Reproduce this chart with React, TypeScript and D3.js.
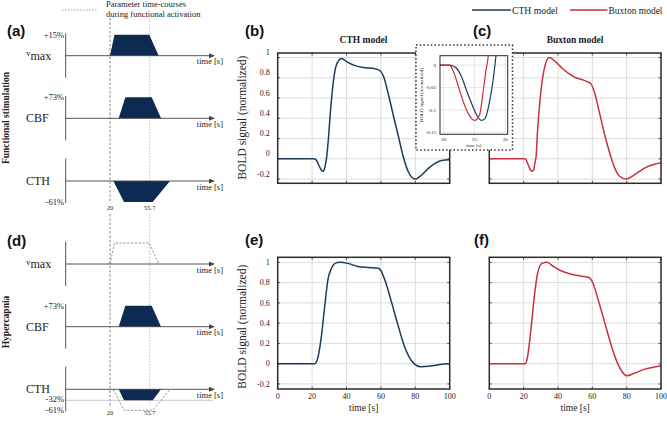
import React from "react";
import * as d3 from "d3";

const W = 667;
const H = 425;

// ---------- BOLD responses (normalized) ----------
const funcCthTime = [0, 20, 21, 21.5, 22.1, 22.9, 23.7, 24.55, 25.4, 26.1, 26.7, 27.5, 28.1, 28.5, 29.5, 30.4, 31.8, 33.3, 35, 37.2, 40, 45, 50.8, 56.6, 59.5, 61.4, 64.3, 67.2, 70.2, 73, 76, 80, 83.7, 87.6, 91.5, 95.3, 100];
const funcCthBold = [0, 0, 0, -0.002, -0.007, -0.026, -0.056, -0.086, -0.112, -0.123, -0.119, -0.078, -0.026, 0.022, 0.2, 0.41, 0.68, 0.87, 0.96, 0.99, 0.96, 0.92, 0.9, 0.89, 0.87, 0.82, 0.64, 0.43, 0.22, 0.02, -0.13, -0.2, -0.16, -0.095, -0.046, -0.016, -0.01];

const funcBuxTime = [0, 20, 20.9, 21.6, 22.4, 23.2, 24.0, 25.0, 25.8, 26.44, 26.88, 27.25, 28.0, 29.9, 31.8, 33.2, 34.8, 38.8, 42.7, 46.6, 50.5, 54.4, 57.3, 59.2, 61.2, 64.1, 67, 69.9, 72.8, 75.7, 79.6, 83.5, 87.4, 91.3, 95.1, 100];
const funcBuxBold = [0, 0, 0, -0.015, -0.048, -0.082, -0.108, -0.123, -0.112, -0.056, -0.011, 0.022, 0.25, 0.64, 0.87, 0.96, 1.0, 0.955, 0.89, 0.84, 0.8, 0.78, 0.76, 0.74, 0.66, 0.46, 0.25, 0.07, -0.08, -0.17, -0.2, -0.17, -0.125, -0.085, -0.059, -0.038];

const hypCthTime = [0, 21.5, 22.3, 23.5, 25.4, 27.3, 29.2, 31.2, 34, 36, 40.8, 46.5, 52.3, 58, 60, 62, 65.8, 69.6, 73.5, 76.3, 79.2, 83, 88.8, 94.6, 100];
const hypCthBold = [0, 0, 0.01, 0.07, 0.27, 0.56, 0.83, 0.94, 0.995, 1.0, 0.99, 0.96, 0.95, 0.945, 0.92, 0.84, 0.63, 0.4, 0.18, 0.07, 0.0, -0.03, -0.023, -0.007, 0];

const hypBuxTime = [0, 20.9, 21.5, 22.3, 24.2, 26.2, 28.1, 30.7, 33.6, 37.5, 41.4, 47.3, 53.1, 58, 60, 62.9, 66.8, 70.7, 73.6, 76.6, 80.1, 84.4, 90.2, 96.1, 100];
const hypBuxBold = [0, 0, 0.015, 0.07, 0.33, 0.66, 0.89, 0.99, 1.0, 0.957, 0.92, 0.885, 0.865, 0.85, 0.81, 0.66, 0.43, 0.2, 0.05, -0.06, -0.12, -0.095, -0.056, -0.033, -0.02];

const boldTicks = [-0.2, 0, 0.2, 0.4, 0.6, 0.8, 1];
const boldTickLabels = ["-0.2", "0", "0.2", "0.4", "0.6", "0.8", "1"];
const timeTicks = [0, 20, 40, 60, 80, 100];
const insetBoldTicks = [-0.15, -0.1, -0.05, 0];
const insetBoldTickLabels = ["-0.15", "-0.1", "-0.05", "0"];
const insetTimeTicks = [20, 25, 30];

// ---------- schematic parameter time-courses ----------
const stimOnset = 20;
const stimOffset = 55.7;
const vmaxRamp = [20, 24, 55.3, 63.8];
const cbfRamp = [27.8, 33.8, 57.5, 65.9];
const cthRamp = [23, 32.6, 58.4, 74];
const cthHypRamp = [27.8, 32.6, 58.4, 65.9];
const vmaxPeak = 15;
const cbfPeak = 73;
const cthPeak = -61;
const cthHypPeak = -32;

const BLUE = "#1c3a5e";
const RED = "#c8323c";
const FILL = "#0e2a50";
const SERIF = "'Liberation Serif', 'Times New Roman', serif";
const SANS = "'Liberation Sans', Arial, sans-serif";
const TXT = "#222";

type Series = { t: number[]; v: number[]; color: string };

function BoldPanel(props: {
  id: string;
  x0: number; x1: number; y0: number; y1: number;
  yDomain: [number, number];
  series: Series[];
  yLabels: boolean; xLabels: boolean; yLabelShift: number;
}) {
  const { x0, x1, y0, y1, yDomain, series } = props;
  const xs = d3.scaleLinear().domain([0, 100]).range([x0, x1]);
  const ys = d3.scaleLinear().domain(yDomain).range([y1, y0]);
  const line = d3.line<number>().curve(d3.curveMonotoneX);
  return (
    <g>
      <defs>
        <clipPath id={props.id}>
          <rect x={x0} y={y0} width={x1 - x0} height={y1 - y0} />
        </clipPath>
      </defs>
      {boldTicks.map((b) => (
        <line key={"gy" + b} x1={x0} x2={x1} y1={ys(b)} y2={ys(b)} stroke="#d4d4d4" strokeWidth={0.8} />
      ))}
      {timeTicks.slice(1, -1).map((t) => (
        <line key={"gx" + t} x1={xs(t)} x2={xs(t)} y1={y0} y2={y1} stroke="#d4d4d4" strokeWidth={0.8} />
      ))}
      {boldTicks.map((b) => (
        <g key={"ty" + b}>
          <line x1={x0} x2={x0 + 2.5} y1={ys(b)} y2={ys(b)} stroke="#333" strokeWidth={0.8} />
          <line x1={x1 - 2.5} x2={x1} y1={ys(b)} y2={ys(b)} stroke="#333" strokeWidth={0.8} />
        </g>
      ))}
      {timeTicks.map((t) => (
        <g key={"tx" + t}>
          <line x1={xs(t)} x2={xs(t)} y1={y1} y2={y1 - 2.5} stroke="#333" strokeWidth={0.8} />
          <line x1={xs(t)} x2={xs(t)} y1={y0} y2={y0 + 2.5} stroke="#333" strokeWidth={0.8} />
        </g>
      ))}
      <g clipPath={`url(#${props.id})`}>
        {series.map((s, i) => (
          <path
            key={i}
            d={line.x((_, j) => xs(s.t[j])).y((d) => ys(d))(s.v) || ""}
            fill="none"
            stroke={s.color}
            strokeWidth={1.5}
          />
        ))}
      </g>
      <rect x={x0} y={y0} width={x1 - x0} height={y1 - y0} fill="none" stroke="#2a2a2a" strokeWidth={1.5} />
      {props.yLabels &&
        boldTicks.map((b, i) => (
          <text key={"ly" + b} x={x0 - 8} y={ys(b) + props.yLabelShift} dy="0.33em" textAnchor="end" fontSize={8} fontFamily={SERIF} fill={TXT}>
            {boldTickLabels[i]}
          </text>
        ))}
      {props.xLabels && (
        <g>
          {timeTicks.map((t) => (
            <text key={"lx" + t} x={xs(t)} y={y1 + 10} textAnchor="middle" fontSize={8} fontFamily={SERIF} fill={TXT}>
              {t}
            </text>
          ))}
          <text x={(x0 + x1) / 2} y={y1 + 21.5} textAnchor="middle" fontSize={9.5} fontFamily={SERIF} fill={TXT}>
            time [s]
          </text>
        </g>
      )}
    </g>
  );
}

function Inset() {
  const bx0 = 416, by0 = 45, bx1 = 512.5, by1 = 150;
  const x0 = 440, x1 = 507.7, y0 = 55.7, y1 = 134.3;
  const xs = d3.scaleLinear().domain([19.4, 30.4]).range([x0, x1]);
  const ys = d3.scaleLinear().domain([-0.154, 0.021]).range([y1, y0]);
  const line = d3.line<number>().curve(d3.curveMonotoneX);
  const series: Series[] = [
    { t: funcCthTime, v: funcCthBold, color: BLUE },
    { t: funcBuxTime, v: funcBuxBold, color: RED },
  ];
  return (
    <g>
      <defs>
        <clipPath id="insetclip">
          <rect x={x0} y={y0} width={x1 - x0} height={y1 - y0} />
        </clipPath>
      </defs>
      <rect x={bx0} y={by0} width={bx1 - bx0} height={by1 - by0} fill="#fff" stroke="#333" strokeWidth={1.5} strokeDasharray="1.5,2.2" />
      {insetBoldTicks.map((b) => (
        <line key={"g" + b} x1={x0} x2={x1} y1={ys(b)} y2={ys(b)} stroke="#d8d8d8" strokeWidth={0.6} />
      ))}
      {insetTimeTicks.map((t) => (
        <line key={"gx" + t} x1={xs(t)} x2={xs(t)} y1={y0} y2={y1} stroke="#d8d8d8" strokeWidth={0.6} />
      ))}
      <g clipPath="url(#insetclip)">
        {series.map((s, i) => (
          <path key={i} d={line.x((_, j) => xs(s.t[j])).y((d) => ys(d))(s.v) || ""} fill="none" stroke={s.color} strokeWidth={1.2} />
        ))}
      </g>
      <rect x={x0} y={y0} width={x1 - x0} height={y1 - y0} fill="none" stroke="#2a2a2a" strokeWidth={1} />
      {insetBoldTicks.map((b, i) => (
        <text key={"l" + b} x={x0 - 4} y={ys(b)} dy="0.33em" textAnchor="end" fontSize={5} fontFamily={SERIF} fill={TXT}>
          {insetBoldTickLabels[i]}
        </text>
      ))}
      {insetTimeTicks.map((t) => (
        <text key={"lx" + t} x={xs(t)} y={y1 + 6.5} textAnchor="middle" fontSize={5} fontFamily={SERIF} fill={TXT}>
          {t}
        </text>
      ))}
      <text x={(x0 + x1) / 2} y={y1 + 12.5} textAnchor="middle" fontSize={5} fontFamily={SERIF} fill={TXT}>
        time [s]
      </text>
      <text transform={`translate(${421.7},${(y0 + y1) / 2}) rotate(-90)`} dy="0.35em" textAnchor="middle" fontSize={5} fontFamily={SERIF} fill={TXT}>
        BOLD signal (normalized)
      </text>
    </g>
  );
}

const sx = d3.scaleLinear().domain([stimOnset, stimOffset]).range([110, 149.7]);
const AX0 = 65.7;
const AX1 = 213;
const AMP = 21;

function Row(props: {
  axisY: number;
  label: React.ReactNode;
  shapes: { ramp: number[]; peak: number; norm: number; dashed?: boolean }[];
  pct: { text: string; value: number; norm: number }[];
  refLine?: { value: number; norm: number };
}) {
  const { axisY } = props;
  const ypx = (v: number, norm: number) => {
    const s = d3.scaleLinear().domain([0, norm]).range([axisY, norm > 0 ? axisY - AMP : axisY + AMP]);
    return s(v);
  };
  const line = d3.line<[number, number]>();
  return (
    <g>
      {props.refLine && (
        <line x1={AX0} x2={AX1} y1={ypx(props.refLine.value, props.refLine.norm)} y2={ypx(props.refLine.value, props.refLine.norm)} stroke="#bbb" strokeWidth={0.8} />
      )}
      {props.shapes.map((s, i) => {
        const pts: [number, number][] = [
          [sx(s.ramp[0]), ypx(0, s.norm)],
          [sx(s.ramp[1]), ypx(s.peak, s.norm)],
          [sx(s.ramp[2]), ypx(s.peak, s.norm)],
          [sx(s.ramp[3]), ypx(0, s.norm)],
        ];
        return s.dashed ? (
          <path key={i} d={line(pts) || ""} fill="none" stroke="#888" strokeWidth={0.9} strokeDasharray="2.2,1.6" />
        ) : (
          <path key={i} d={(line(pts) || "") + "Z"} fill={FILL} stroke="none" />
        );
      })}
      <line x1={AX0} x2={AX0} y1={axisY - 22.5} y2={axisY + 22} stroke="#444" strokeWidth={0.9} />
      <line x1={AX0} x2={AX1 - 4} y1={axisY} y2={axisY} stroke="#444" strokeWidth={0.9} markerEnd="url(#arrow)" />
      <text x={223} y={axisY + 8.5} textAnchor="end" fontSize={8.5} fontFamily={SERIF} fill={TXT}>
        time [s]
      </text>
      {props.pct.map((p, i) => (
        <text key={i} x={64} y={ypx(p.value, p.norm)} dy="0.35em" textAnchor="end" fontSize={8.5} fontFamily={SERIF} fill={TXT}>
          {p.text}
        </text>
      ))}
      <text x={26} y={axisY + 4} fontSize={12} fontFamily={SERIF} fill={TXT}>
        {props.label}
      </text>
    </g>
  );
}

const vmaxLabel = (
  <>
    <tspan fontSize={9} dy={-3.5}>v</tspan>
    <tspan dy={3.5}>max</tspan>
  </>
);

export default function App() {
  return (
    <svg width={W} height={H} viewBox={`0 0 ${W} ${H}`} style={{ position: "absolute", left: 0, top: 0, background: "#fff" }}>
      <defs>
        <marker id="arrow" viewBox="0 0 6 5" refX={0} refY={2.5} markerWidth={6} markerHeight={5} markerUnits="userSpaceOnUse" orient="auto">
          <path d="M0,0 L6,2.5 L0,5 z" fill="#444" />
        </marker>
      </defs>
      <rect x={0} y={0} width={W} height={H} fill="#fff" />

      {/* legend top-left */}
      <line x1={62} x2={98} y1={10} y2={10} stroke="#999" strokeWidth={0.9} strokeDasharray="1.5,1.5" />
      <text x={106} y={7} fontSize={8.5} fontFamily={SERIF} fill={TXT}>Parameter time-courses</text>
      <text x={106} y={17} fontSize={8.5} fontFamily={SERIF} fill={TXT}>during functional activation</text>

      {/* legend top-right */}
      <line x1={472} x2={511} y1={10} y2={10} stroke={BLUE} strokeWidth={1.5} />
      <text x={512} y={13.5} fontSize={10.5} fontFamily={SERIF} fill={TXT} textLength={46} lengthAdjust="spacingAndGlyphs">CTH model</text>
      <line x1={570} x2={607.5} y1={10} y2={10} stroke={RED} strokeWidth={1.5} />
      <text x={608.5} y={13.5} fontSize={10.5} fontFamily={SERIF} fill={TXT} textLength={54} lengthAdjust="spacingAndGlyphs">Buxton model</text>

      {/* panel letters */}
      {[
        ["(a)", 7, 36],
        ["(b)", 245, 36],
        ["(c)", 473, 36],
        ["(d)", 7, 246],
        ["(e)", 245, 245],
        ["(f)", 474, 245],
      ].map(([s, x, y]) => (
        <text key={s as string} x={x as number} y={y as number} fontSize={15} fontWeight="bold" fontFamily={SANS} fill="#111">
          {s}
        </text>
      ))}

      {/* row titles */}
      <text transform="translate(9,118) rotate(-90)" textAnchor="middle" fontSize={9.5} fontWeight="bold" fontFamily={SERIF} fill={TXT}>
        Functional stimulation
      </text>
      <text transform="translate(9,322) rotate(-90)" textAnchor="middle" fontSize={9.5} fontWeight="bold" fontFamily={SERIF} fill={TXT}>
        Hypercapnia
      </text>

      {/* stimulus onset/offset dashed lines */}
      <line x1={sx(stimOnset)} x2={sx(stimOnset)} y1={18} y2={202} stroke="#666" strokeWidth={0.8} strokeDasharray="2.5,1.8" />
      <line x1={sx(stimOffset)} x2={sx(stimOffset)} y1={18} y2={202} stroke="#aaa" strokeWidth={0.8} strokeDasharray="1.5,1.5" />
      <line x1={sx(stimOnset)} x2={sx(stimOnset)} y1={214} y2={406} stroke="#666" strokeWidth={0.8} strokeDasharray="2.5,1.8" />
      <line x1={sx(stimOffset)} x2={sx(stimOffset)} y1={214} y2={406} stroke="#aaa" strokeWidth={0.8} strokeDasharray="1.5,1.5" />
      {[209.5, 415].map((y) => (
        <g key={y}>
          <text x={sx(stimOnset)} y={y} textAnchor="middle" fontSize={6.5} fontFamily={SERIF} fill={TXT}>{stimOnset}</text>
          <text x={sx(stimOffset)} y={y} textAnchor="middle" fontSize={6.5} fontFamily={SERIF} fill={TXT}>{stimOffset}</text>
        </g>
      ))}

      {/* panel (a) */}
      <Row axisY={55.7} label={vmaxLabel} shapes={[{ ramp: vmaxRamp, peak: vmaxPeak, norm: vmaxPeak }]} pct={[{ text: "+15%", value: vmaxPeak, norm: vmaxPeak }]} />
      <Row axisY={118.3} label="CBF" shapes={[{ ramp: cbfRamp, peak: cbfPeak, norm: cbfPeak }]} pct={[{ text: "+73%", value: cbfPeak, norm: cbfPeak }]} />
      <Row axisY={181} label="CTH" shapes={[{ ramp: cthRamp, peak: cthPeak, norm: cthPeak }]} pct={[{ text: "-61%", value: cthPeak, norm: cthPeak }]} />

      {/* panel (d) */}
      <Row axisY={264} label={vmaxLabel} shapes={[{ ramp: vmaxRamp, peak: vmaxPeak, norm: vmaxPeak, dashed: true }]} pct={[]} />
      <Row axisY={326.7} label="CBF" shapes={[{ ramp: cbfRamp, peak: cbfPeak, norm: cbfPeak }]} pct={[{ text: "+73%", value: cbfPeak, norm: cbfPeak }]} />
      <Row
        axisY={389.3}
        label="CTH"
        refLine={{ value: cthHypPeak, norm: cthPeak }}
        shapes={[
          { ramp: cthRamp, peak: cthPeak, norm: cthPeak, dashed: true },
          { ramp: cthHypRamp, peak: cthHypPeak, norm: cthPeak },
        ]}
        pct={[
          { text: "-32%", value: cthHypPeak + 3, norm: cthPeak },
          { text: "-61%", value: cthPeak, norm: cthPeak },
        ]}
      />

      {/* BOLD panels */}
      <text x={363.5} y={42.5} textAnchor="middle" fontSize={9.5} fontWeight="bold" fontFamily={SERIF} fill={TXT}>CTH model</text>
      <text x={575} y={43} textAnchor="middle" fontSize={9.5} fontWeight="bold" fontFamily={SERIF} fill={TXT}>Buxton model</text>
      <text transform="translate(241.7,117.6) rotate(-90)" dy="0.35em" textAnchor="middle" fontSize={11.5} fontFamily={SERIF} fill={TXT}>
        BOLD signal (normalized)
      </text>
      <text transform="translate(241.7,326.7) rotate(-90)" dy="0.35em" textAnchor="middle" fontSize={11.5} fontFamily={SERIF} fill={TXT}>
        BOLD signal (normalized)
      </text>

      <BoldPanel id="cb" x0={277.7} x1={449.7} y0={53} y1={183.3} yDomain={[-0.242, 1.045]} series={[{ t: funcCthTime, v: funcCthBold, color: BLUE }]} yLabels={true} xLabels={false} yLabelShift={-5} />
      <BoldPanel id="cc" x0={489.3} x1={661} y0={53} y1={183.3} yDomain={[-0.242, 1.045]} series={[{ t: funcBuxTime, v: funcBuxBold, color: RED }]} yLabels={false} xLabels={false} yLabelShift={0} />
      <BoldPanel id="ce" x0={277.7} x1={449.7} y0={257.3} y1={389} yDomain={[-0.25, 1.05]} series={[{ t: hypCthTime, v: hypCthBold, color: BLUE }]} yLabels={true} xLabels={true} yLabelShift={0} />
      <BoldPanel id="cf" x0={489.3} x1={661} y0={257.3} y1={389} yDomain={[-0.25, 1.05]} series={[{ t: hypBuxTime, v: hypBuxBold, color: RED }]} yLabels={false} xLabels={true} yLabelShift={0} />

      <Inset />
    </svg>
  );
}
